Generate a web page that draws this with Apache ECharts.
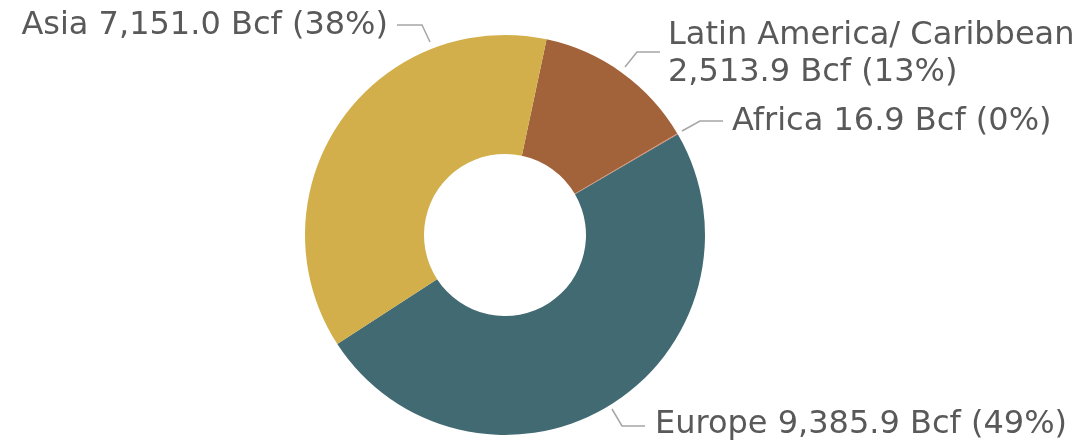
<!DOCTYPE html>
<html>
<head>
<meta charset="utf-8">
<script src="https://cdn.jsdelivr.net/npm/echarts@6/dist/echarts.min.js"></script>
<style>
  html, body { margin: 0; padding: 0; background: #ffffff; }
  #chart { width: 1081px; height: 443px; }
</style>
</head>
<body>
<div id="chart"></div>
<script>
// LNG export volumes by destination region (Bcf)
const regions = ['Latin America/ Caribbean', 'Africa', 'Europe', 'Asia'];
const volumesBcf = [2513.9, 16.9, 9385.9, 7151.0];
const sliceColors = ['#A2623A', '#E08060', '#426A72', '#D2AF4A'];

// Where each callout sits and how its leader line runs
const calloutLayout = {
  'Latin America/ Caribbean': { x: 668, y: 54, align: 'left', line: [[625, 67], [637, 52], [660, 52]] },
  'Africa': { x: 732, y: 122, align: 'left', line: [[682, 131], [700, 121], [723, 121]] },
  'Europe': { x: 655, y: 425, align: 'left', line: [[612, 409], [622, 426], [645, 426]] },
  'Asia': { x: 388, y: 26, align: 'right', line: [[430, 42], [422, 25], [397, 25]] }
};

const fmtNum = v => v.toLocaleString('en-US', { minimumFractionDigits: 1, maximumFractionDigits: 1 });

const chart = echarts.init(document.getElementById('chart'), null, { renderer: 'canvas' });

chart.setOption({
  animation: false,
  backgroundColor: '#ffffff',
  series: [{
    type: 'pie',
    center: [505, 235],
    radius: [81, 200],
    startAngle: 78,
    clockwise: true,
    avoidLabelOverlap: false,
    data: regions.map((name, i) => ({
      name: name,
      value: volumesBcf[i],
      itemStyle: { color: sliceColors[i] }
    })),
    itemStyle: { borderWidth: 0 },
    label: {
      show: true,
      position: 'outside',
      color: '#595959',
      fontFamily: 'DejaVu Sans, Verdana, sans-serif',
      fontSize: 32,
      lineHeight: 37,
      formatter: p => {
        const body = fmtNum(p.value) + ' Bcf (' + Math.round(p.percent) + '%)';
        return p.name === 'Latin America/ Caribbean' ? p.name + '\n' + body : p.name + ' ' + body;
      }
    },
    labelLine: {
      show: true,
      lineStyle: { color: '#A6A6A6', width: 1.5 }
    },
    labelLayout: params => {
      const name = regions[params.dataIndex];
      const c = calloutLayout[name];
      return {
        x: c.x,
        y: c.y,
        align: c.align,
        verticalAlign: 'middle',
        labelLinePoints: c.line
      };
    }
  }]
});
</script>
</body>
</html>
